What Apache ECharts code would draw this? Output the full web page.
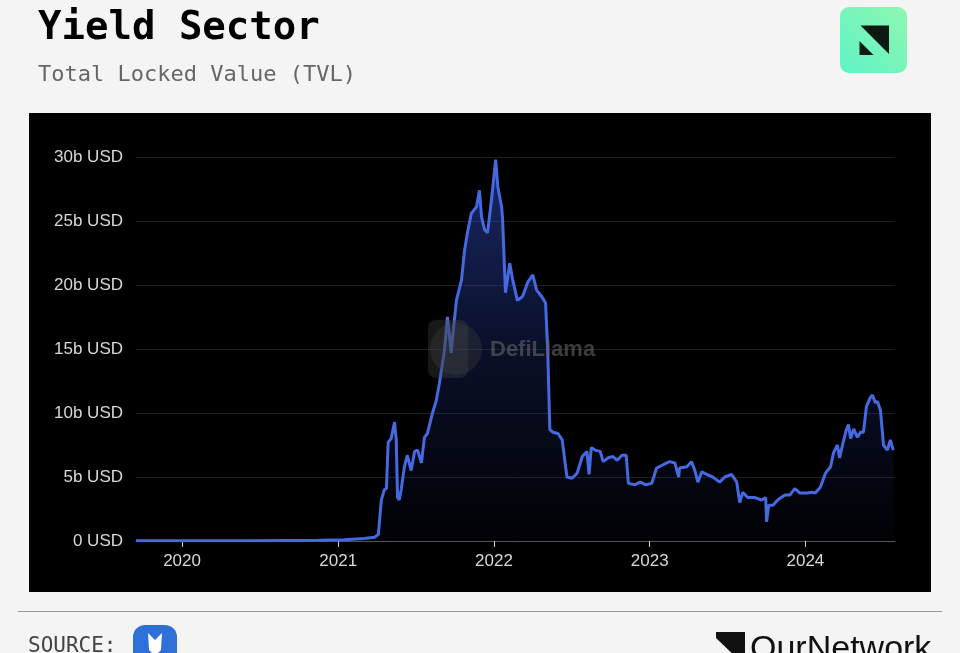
<!DOCTYPE html>
<html><head><meta charset="utf-8">
<script src="https://cdn.jsdelivr.net/npm/echarts@6/dist/echarts.min.js"></script>
<style>html,body{margin:0;padding:0;background:#f4f4f4}#c{width:960px;height:653px}</style>
</head><body><div id="c"></div>
<script>
const dates = ['2019-09-15','2020-01-20','2020-06-06','2020-11-17','2021-01-15','2021-03-03','2021-03-27','2021-04-05','2021-04-12','2021-04-19','2021-04-24','2021-04-28','2021-05-05','2021-05-13','2021-05-17','2021-05-20','2021-05-24','2021-05-29','2021-06-05','2021-06-12','2021-06-21','2021-06-29','2021-07-06','2021-07-15','2021-07-22','2021-07-29','2021-08-10','2021-08-19','2021-08-26','2021-09-07','2021-09-14','2021-09-23','2021-09-26','2021-10-05','2021-10-17','2021-10-24','2021-10-31','2021-11-09','2021-11-21','2021-11-28','2021-12-03','2021-12-10','2021-12-17','2021-12-26','2021-12-31','2022-01-05','2022-01-10','2022-01-19','2022-01-21','2022-01-28','2022-02-07','2022-02-14','2022-02-25','2022-03-09','2022-03-21','2022-04-02','2022-04-11','2022-04-23','2022-05-02','2022-05-07','2022-05-12','2022-05-19','2022-05-31','2022-06-10','2022-06-21','2022-07-03','2022-07-15','2022-07-27','2022-08-07','2022-08-12','2022-08-17','2022-08-26','2022-09-07','2022-09-14','2022-09-26','2022-10-07','2022-10-17','2022-10-28','2022-11-07','2022-11-12','2022-11-28','2022-12-10','2022-12-22','2023-01-06','2023-01-17','2023-01-29','2023-02-10','2023-02-17','2023-03-01','2023-03-10','2023-03-12','2023-03-29','2023-04-09','2023-04-17','2023-04-24','2023-05-03','2023-05-15','2023-05-29','2023-06-14','2023-06-26','2023-07-12','2023-07-24','2023-07-31','2023-08-07','2023-08-19','2023-09-04','2023-09-21','2023-09-30','2023-10-02','2023-10-07','2023-10-17','2023-10-28','2023-11-14','2023-11-26','2023-12-07','2023-12-19','2024-01-06','2024-01-17','2024-01-24','2024-02-05','2024-02-17','2024-02-29','2024-03-07','2024-03-16','2024-03-21','2024-03-28','2024-04-06','2024-04-11','2024-04-16','2024-04-23','2024-05-02','2024-05-09','2024-05-16','2024-05-23','2024-06-01','2024-06-06','2024-06-13','2024-06-18','2024-06-25','2024-07-02','2024-07-11','2024-07-18','2024-07-25'];
const tvl = [0.01,0.01,0.02,0.05,0.1,0.2,0.3,0.5,3.2,4.0,4.1,7.7,8.0,9.3,7.9,3.4,3.2,4.1,5.8,6.7,5.5,7.0,7.1,6.1,8.1,8.4,10.0,11.0,12.3,14.9,17.5,14.7,15.9,18.8,20.4,22.7,24.1,25.6,26.1,27.4,25.3,24.3,24.1,26.6,28.2,29.8,27.7,26.1,25.3,19.4,21.7,20.4,18.8,19.1,20.2,20.8,19.6,19.1,18.6,14.9,8.7,8.5,8.4,7.9,5.0,4.9,5.3,6.6,7.0,5.2,7.3,7.1,7.0,6.2,6.5,6.6,6.3,6.7,6.7,4.5,4.4,4.6,4.4,4.5,5.7,5.9,6.1,6.2,6.1,5.0,5.7,5.8,6.2,5.5,4.6,5.4,5.2,5.0,4.6,5.0,5.2,4.6,3.0,3.8,3.4,3.4,3.2,3.4,1.5,2.8,2.8,3.2,3.6,3.6,4.1,3.75,3.75,3.8,3.75,4.2,5.3,5.8,6.9,7.5,6.5,7.5,8.7,9.1,8.0,8.75,8.1,8.5,8.5,10.5,11.2,11.4,10.8,10.9,10.2,7.5,7.1,7.9,7.1];
const yearLabels = ['2020','2021','2022','2023','2024'];
const yMin = 0, yMax = 30, yStep = 5;
const xStart = '2019-09-15', xEnd = '2024-07-29';

const chart = echarts.init(document.getElementById('c'), null, {renderer: 'canvas'});
const YEAR = 365 * 24 * 3600 * 1000;
const option = {
  backgroundColor: '#f4f4f4',
  animation: false,
  grid: {left: 136, right: 65, top: 157, bottom: 112},
  xAxis: {
    type: 'time', min: xStart, max: xEnd,
    minInterval: YEAR, maxInterval: YEAR * 1.01,
    axisLine: {lineStyle: {color: '#555', width: 1}},
    axisTick: {show: true, length: 6, lineStyle: {color: '#ccc'}},
    splitLine: {show: false},
    axisLabel: {
      color: '#d8d8d8', fontSize: 17, fontFamily: 'Liberation Sans, Arial, sans-serif', margin: 12,
      formatter: function (v) {
        const d = new Date(v);
        const y = String(d.getUTCFullYear());
        return (d.getUTCMonth() === 0 && d.getUTCDate() === 1 && yearLabels.indexOf(y) >= 0) ? y : '';
      }
    }
  },
  yAxis: {
    type: 'value', min: yMin, max: yMax, interval: yStep,
    axisLine: {show: false}, axisTick: {show: false},
    splitLine: {lineStyle: {color: '#1e1e1e', width: 1}},
    axisLabel: {
      color: '#d8d8d8', fontSize: 17, fontFamily: 'Liberation Sans, Arial, sans-serif', margin: 13,
      formatter: v => v === 0 ? '0 USD' : v + 'b USD'
    }
  },
  series: [{
    type: 'line', showSymbol: false, smooth: false, z: 5,
    data: dates.map((d, i) => [d, tvl[i]]),
    lineStyle: {color: '#4569e0', width: 3},
    itemStyle: {color: '#4569e0'},
    areaStyle: {
      color: new echarts.graphic.LinearGradient(0, 0, 0, 1, [
        {offset: 0, color: 'rgba(55,85,215,0.7)'},
        {offset: 0.5, color: 'rgba(45,70,180,0.32)'},
        {offset: 1, color: 'rgba(40,60,160,0.05)'}
      ])
    }
  }],
  graphic: [
    {type: 'rect', z: -10, shape: {x: 29, y: 113, width: 902, height: 479}, style: {fill: '#000'}},
    {type: 'text', x: 38, y: 29, style: {text: 'Yield Sector', font: 'bold 39px "DejaVu Sans Mono", monospace', fill: '#000', verticalAlign: 'middle'}},
    {type: 'text', x: 38, y: 75, style: {text: 'Total Locked Value (TVL)', font: '22px "DejaVu Sans Mono", monospace', fill: '#666', verticalAlign: 'middle'}},
    {type: 'rect', shape: {x: 840, y: 7, width: 67, height: 66, r: 9},
      style: {fill: new echarts.graphic.LinearGradient(1, 0, 0, 1, [{offset: 0, color: '#8ef7b0'}, {offset: 1, color: '#5ff2c6'}])}},
    {type: 'polygon', shape: {points: [[860.5, 25.5], [889, 25.5], [889, 54]]}, style: {fill: '#0c1a12'}},
    {type: 'polygon', shape: {points: [[859.5, 41], [859.5, 55], [873.5, 55]]}, style: {fill: '#0c1a12'}},
    {type: 'rect', z: 20, shape: {x: 428, y: 320, width: 40, height: 58, r: 8}, style: {fill: 'rgba(70,70,70,0.35)'}},
    {type: 'circle', z: 20, shape: {cx: 456, cy: 349, r: 26}, style: {fill: 'rgba(70,70,70,0.3)'}},
    {type: 'text', z: 20, x: 490, y: 350, style: {text: 'DefiLlama', font: 'bold 22px "Liberation Sans", Arial, sans-serif', fill: 'rgba(100,100,100,0.6)', verticalAlign: 'middle'}},
    {type: 'line', shape: {x1: 18, y1: 611.5, x2: 942, y2: 611.5}, style: {stroke: '#999', lineWidth: 1}},
    {type: 'text', x: 28, y: 647, style: {text: 'SOURCE:', font: '21px "DejaVu Sans Mono", monospace', fill: '#444', verticalAlign: 'middle'}},
    {type: 'rect', shape: {x: 133, y: 625, width: 44, height: 40, r: 12}, style: {fill: '#2f6fd8'}},
    {type: 'polygon', shape: {points: [[148, 633], [155, 640], [162, 633], [161, 650], [155, 656], [149, 650]]}, style: {fill: '#fff'}},
    {type: 'polygon', shape: {points: [[716, 632], [745, 632], [745, 660], [716, 660]]}, style: {fill: '#111'}},
    {type: 'polygon', shape: {points: [[716, 638], [739, 660], [716, 660]]}, style: {fill: '#f4f4f4'}},
    {type: 'text', x: 750, y: 650, style: {text: 'OurNetwork', font: '34px "Liberation Sans", Arial, sans-serif', fill: '#111', verticalAlign: 'middle'}}
  ]
};
chart.setOption(option);
</script>
</body></html>
